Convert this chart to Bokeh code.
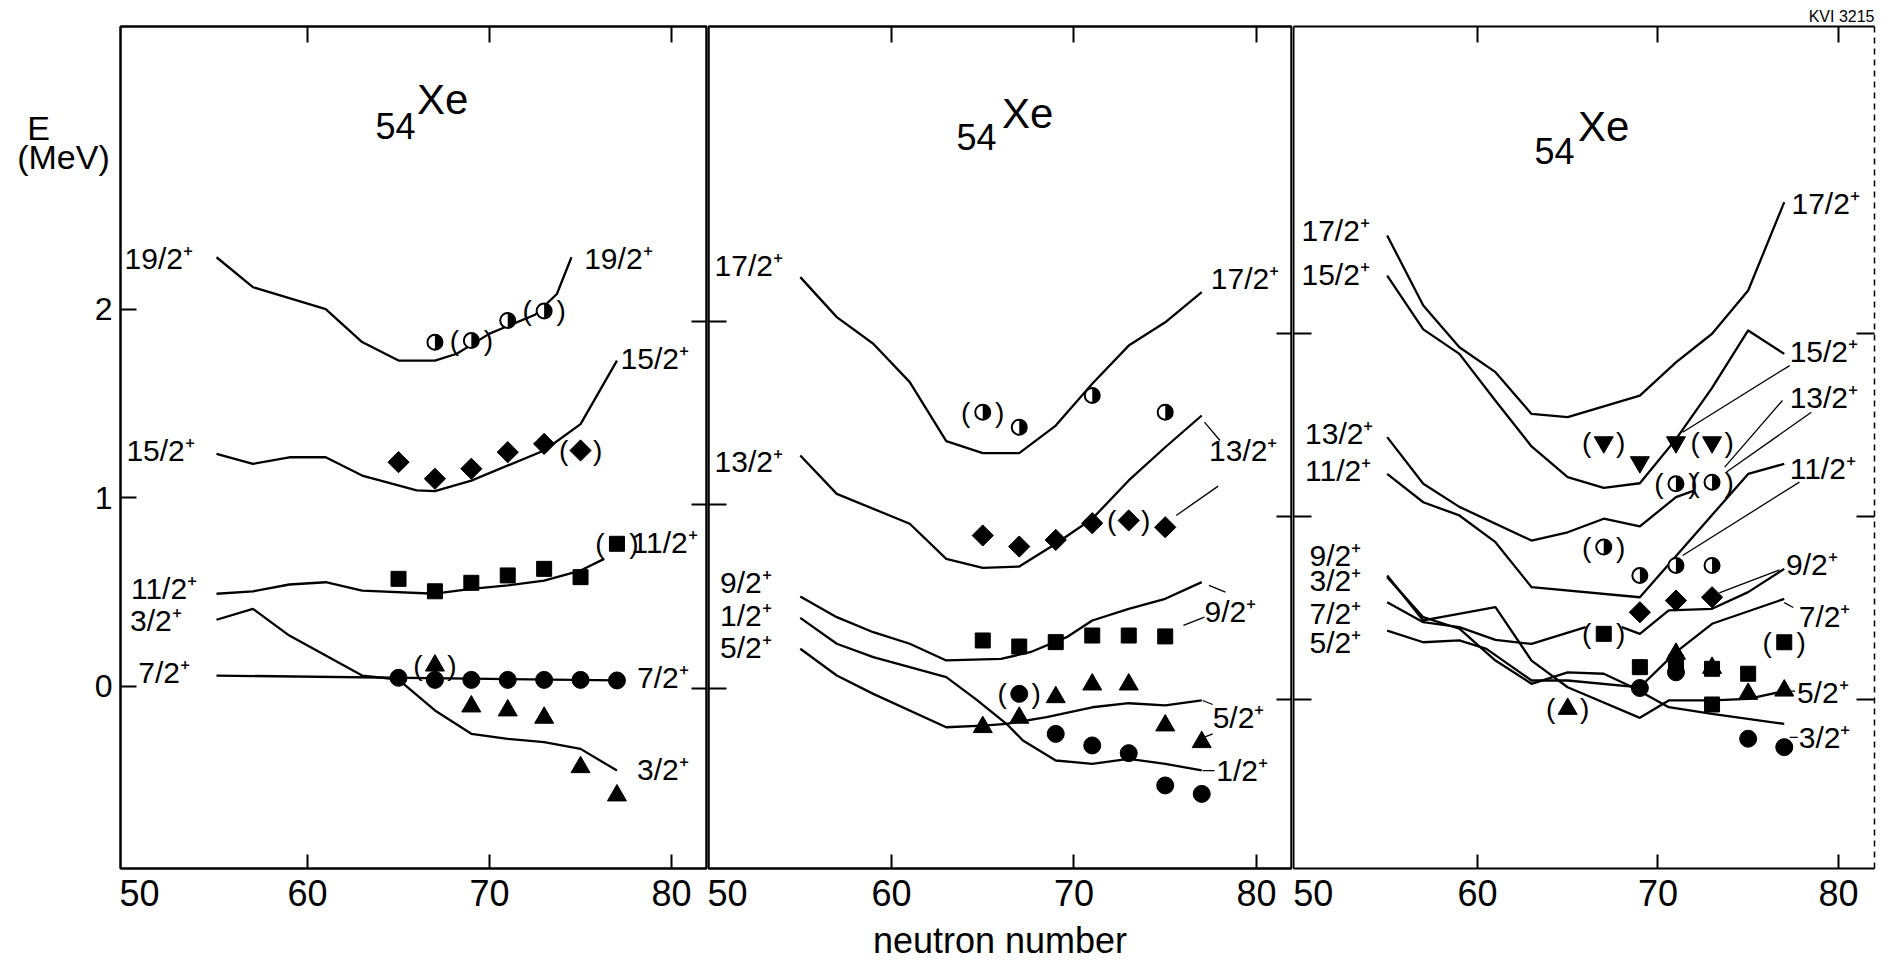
import math
from bokeh.plotting import figure
from bokeh.layouts import row
from bokeh.models import Range1d, LinearAxis, FixedTicker, ColumnDataSource, Title
from bokeh.core.properties import value
from bokeh.embed import file_html
from bokeh.resources import INLINE

FONT = "Liberation Sans"

# ====================== DATA ======================
X_TICKS = [60, 70, 80]
Y_TICKS = [0, 1, 2]

# ---------------- left panel ----------------
L_T19_N = [55, 57, 59, 61, 63, 65, 67, 68.2, 70, 72.5, 73.7, 74.5]
L_T19_E = [2.275, 2.116, 2.058, 2.00, 1.825, 1.727, 1.727, 1.763, 1.87, 1.97, 2.08, 2.275]
L_T15_N = [55, 57, 59, 61, 63, 66, 67, 69, 73, 75, 77]
L_T15_E = [1.232, 1.179, 1.214, 1.214, 1.117, 1.038, 1.034, 1.09, 1.25, 1.39, 1.727]
L_T11_N = [55, 57, 59, 61, 63, 67, 69, 71, 73, 75, 76.3]
L_T11_E = [0.49, 0.503, 0.539, 0.551, 0.507, 0.49, 0.516, 0.534, 0.56, 0.613, 0.675]
L_T7_N = [55, 77]
L_T7_E = [0.056, 0.03]
L_T3_N = [55, 57, 59, 63, 65, 67, 69, 71, 73, 75, 77]
L_T3_E = [0.352, 0.41, 0.268, 0.056, 0.035, -0.129, -0.253, -0.28, -0.297, -0.333, -0.448]

L19_N = [67, 69, 71, 73]
L19_E = [1.824, 1.833, 1.94, 1.99]
L19_T = [0, 1, 0, 1]
L15_N = [65, 67, 69, 71, 73, 75]
L15_E = [1.188, 1.10, 1.153, 1.241, 1.285, 1.25]
L15_T = [0, 0, 0, 0, 0, 1]
L11_N = [65, 67, 69, 71, 73, 75, 77]
L11_E = [0.569, 0.503, 0.548, 0.587, 0.622, 0.578, 0.755]
L11_T = [0, 0, 0, 0, 0, 0, 1]
L7_N = [65, 67, 69, 71, 73, 75, 77]
L7_E = [0.044, 0.033, 0.033, 0.033, 0.033, 0.033, 0.03]
L3_N = [67, 69, 71, 73, 75, 77]
L3_E = [0.109, -0.108, -0.129, -0.168, -0.43, -0.58]
L3_T = [1, 0, 0, 0, 0, 0]

# ---------------- middle panel ----------------
M_T17_N = [55, 57, 59, 61, 63, 65, 67, 69, 71, 73, 75, 77]
M_T17_E = [2.239, 2.021, 1.876, 1.667, 1.345, 1.28, 1.28, 1.43, 1.658, 1.866, 1.993, 2.157]
M_T13_N = [55, 57, 61, 63, 65, 67, 69, 71, 73, 75, 77]
M_T13_E = [1.267, 1.058, 0.895, 0.704, 0.655, 0.662, 0.786, 0.922, 1.131, 1.312, 1.485]
M_T9_N = [55, 57, 59, 61, 63, 66, 67.6, 69.6, 71, 73, 75, 77]
M_T9_E = [0.499, 0.386, 0.304, 0.241, 0.15, 0.159, 0.195, 0.277, 0.368, 0.431, 0.486, 0.577]
M_T1_N = [55, 57, 59, 63, 64.6, 66.3, 67.2, 69, 71, 73, 75, 77]
M_T1_E = [0.382, 0.241, 0.168, 0.059, -0.059, -0.195, -0.286, -0.395, -0.413, -0.386, -0.413, -0.449]
M_T5_N = [55, 57, 59, 63, 65, 66.3, 68.5, 71, 73, 75, 77]
M_T5_E = [0.214, 0.068, -0.032, -0.214, -0.205, -0.195, -0.159, -0.105, -0.083, -0.095, -0.068]

M17_N = [65, 67, 71, 75]
M17_E = [1.503, 1.421, 1.594, 1.503]
M17_T = [1, 0, 0, 0]
M13_N = [65, 67, 69, 71, 73, 75]
M13_E = [0.831, 0.771, 0.807, 0.898, 0.913, 0.876]
M13_T = [0, 0, 0, 0, 1, 0]
M9_N = [65, 67, 69, 71, 73, 75]
M9_E = [0.259, 0.226, 0.25, 0.286, 0.286, 0.281]
M5_N = [65, 67, 69, 71, 73, 75, 77]
M5_E = [-0.213, -0.162, -0.05, 0.019, 0.019, -0.204, -0.295]
M1_N = [67, 69, 71, 73, 75, 77]
M1_E = [-0.032, -0.25, -0.313, -0.355, -0.531, -0.577]
M1_T = [1, 0, 0, 0, 0, 0]

M_LEADERS = [
    ([77.15, 78.0], [1.449, 1.349]),
    ([75.6, 77.9], [0.94, 1.10]),
    ([77.4, 78.3], [0.559, 0.522]),
    ([76.0, 77.15], [0.341, 0.386]),
    ([77.05, 77.6], [-0.068, -0.09]),
    ([77.15, 77.6], [-0.268, -0.25]),
    ([77.05, 77.7], [-0.45, -0.45]),
]

# ---------------- right panel ----------------
R_T17_N = [55, 57, 59, 61, 63, 65, 69, 71, 73, 75, 77]
R_T17_E = [2.533, 2.15, 1.922, 1.786, 1.558, 1.54, 1.658, 1.84, 1.996, 2.232, 2.715]
R_T15_N = [55, 57, 59, 61, 63, 65, 67, 69, 71, 73, 75, 77]
R_T15_E = [2.314, 2.02, 1.886, 1.63, 1.38, 1.212, 1.154, 1.179, 1.42, 1.70, 2.014, 1.886]
R_T13_N = [55, 57, 59, 63, 65, 67, 69, 71, 72]
R_T13_E = [1.431, 1.176, 1.05, 0.866, 0.911, 0.985, 0.943, 1.103, 1.139]
R_T11_N = [55, 57, 59, 61, 63, 69, 75, 77]
R_T11_E = [1.23, 1.075, 1.003, 0.857, 0.611, 0.556, 1.23, 1.285]
R_TA_N = [55, 57, 61, 63, 65, 69, 70.6, 73, 75, 77]
R_TA_E = [0.675, 0.429, 0.502, 0.21, 0.064, -0.103, -0.008, -0.008, 0.001, 0.043]
R_TB_N = [55, 57, 59, 61, 63, 65, 67, 68.6, 70.6, 73, 77]
R_TB_E = [0.666, 0.447, 0.384, 0.21, 0.083, 0.146, 0.138, 0.064, -0.045, -0.081, -0.136]
R_TC1_N = [55, 57, 59, 61, 63, 66]
R_TC1_E = [0.529, 0.42, 0.393, 0.323, 0.301, 0.393]
R_TC2_N = [68, 69, 70.6, 73, 75, 77]
R_TC2_E = [0.393, 0.356, 0.484, 0.493, 0.584, 0.711]
R_TD_N = [55, 57, 59, 60.5, 63, 65, 69, 71, 73, 77]
R_TD_E = [0.374, 0.31, 0.32, 0.274, 0.101, 0.101, 0.064, 0.256, 0.411, 0.547]

R15_N = [67, 69, 71, 73]
R15_E = [1.403, 1.294, 1.403, 1.403]
R15_T = [1, 0, 0, 1]
R13_N = [71, 73]
R13_E = [1.176, 1.185]
R13_T = [1, 1]
R11_N = [67, 69, 71, 73]
R11_E = [0.83, 0.675, 0.73, 0.73]
R11_T = [1, 0, 0, 0]
R9_N = [69, 71, 73]
R9_E = [0.474, 0.538, 0.556]
R7_N = [67, 69, 71, 73, 75, 77, 73]
R7_E = [0.356, 0.174, 0.20, 0.165, 0.138, 0.31, -0.03]
R7_T = [1, 0, 0, 0, 0, 1, 0]
R5_N = [65, 71, 73, 75, 77]
R5_E = [-0.054, 0.247, 0.17, 0.028, 0.046]
R5_T = [1, 0, 0, 0, 0]
R3_N = [69, 71, 75, 77]
R3_E = [0.06, 0.146, -0.217, -0.263]

R_LEADERS = [
    ([71.37, 77.3], [1.458, 1.822]),
    ([73.7, 76.9], [1.267, 1.631]),
    ([73.8, 78.5], [1.24, 1.567]),
    ([71.37, 77.84], [0.784, 1.185]),
    ([73.4, 76.74], [0.58, 0.706]),
    ([77.0, 77.5], [0.527, 0.50]),
    ([77.27, 77.6], [0.043, 0.043]),
    ([77.3, 77.75], [-0.21, -0.21]),
]

# ---------------- labels ----------------
L_LABELS = [("19/2⁺", 49.95, 2.27), ("19/2⁺", 75.2, 2.27), ("15/2⁺", 50.05, 1.25),
            ("15/2⁺", 77.2, 1.74), ("11/2⁺", 50.3, 0.52), ("3/2⁺", 50.25, 0.35),
            ("7/2⁺", 50.7, 0.07), ("11/2⁺", 77.8, 0.76), ("7/2⁺", 78.1, 0.045),
            ("3/2⁺", 78.1, -0.44)]
M_LABELS = [("17/2⁺", 50.3, 2.30), ("17/2⁺", 77.5, 2.23), ("13/2⁺", 50.3, 1.234),
            ("13/2⁺", 77.4, 1.294), ("9/2⁺", 50.6, 0.575), ("1/2⁺", 50.6, 0.395),
            ("5/2⁺", 50.6, 0.22), ("9/2⁺", 77.15, 0.419), ("5/2⁺", 77.6, -0.16),
            ("1/2⁺", 77.8, -0.45)]
R_LABELS = [("17/2⁺", 50.25, 2.56), ("15/2⁺", 50.25, 2.32), ("13/2⁺", 50.45, 1.45),
            ("11/2⁺", 50.45, 1.25), ("9/2⁺", 50.7, 0.784), ("3/2⁺", 50.7, 0.648),
            ("7/2⁺", 50.7, 0.467), ("5/2⁺", 50.7, 0.309), ("17/2⁺", 77.4, 2.71),
            ("15/2⁺", 77.3, 1.90), ("13/2⁺", 77.3, 1.65), ("11/2⁺", 77.3, 1.26),
            ("9/2⁺", 77.1, 0.734), ("7/2⁺", 77.8, 0.45), ("5/2⁺", 77.7, 0.036),
            ("3/2⁺", 77.8, -0.21)]
TITLE_POS = [((64.84, 2.974), (67.42, 3.11)),
             ((64.66, 3.005), (67.46, 3.133)),
             ((64.27, 2.997), (67.0, 3.128))]
FIFTY_POS = [50.44, 50.9, 50.9]
YLABEL_E = ("E", 38, 2.963)
YLABEL_U = ("(MeV)", 63, 2.809)
YTICK_LABEL_X = 112

# ====================== LAYOUT ======================
FRAME_T, FRAME_B = 26, 868
BORDER_BOTTOM = 94
GUTTER_W = 119
PANELS = [
    dict(x0=49.725, x1=81.92, Y0=685.6, S=188.5, fw=586, mbl=1, mbr=1),
    dict(x0=49.97, x1=81.92, Y0=687.5, S=183.5, fw=583, mbl=1, mbr=1),
    dict(x0=49.81, x1=82.0, Y0=698.5, S=183.0, fw=581, mbl=1, mbr=4),
]


def yrange(P):
    return (P["Y0"] - FRAME_B) / P["S"], (P["Y0"] - FRAME_T) / P["S"]


def style_axis(ax, tick_in, show_labels, standoff, label_px="36px"):
    ax.major_tick_in = tick_in
    ax.major_tick_out = 0
    ax.minor_tick_line_color = None
    ax.axis_line_width = 2
    ax.axis_line_color = "black"
    ax.major_tick_line_width = 2
    ax.major_tick_line_color = "black"
    ax.major_label_text_font = FONT
    ax.major_label_standoff = standoff
    if show_labels:
        ax.major_label_text_font_size = label_px
        ax.major_label_text_color = "black"
    else:
        ax.major_label_text_font_size = "1px"
        ax.major_label_text_color = None


def make_fig(i):
    P = PANELS[i]
    y0, y1 = yrange(P)
    p = figure(x_range=Range1d(P["x0"], P["x1"]), y_range=Range1d(y0, y1),
               frame_width=P["fw"], frame_height=FRAME_B - FRAME_T,
               min_border_left=P["mbl"], min_border_right=P["mbr"],
               min_border_top=FRAME_T, min_border_bottom=BORDER_BOTTOM,
               output_backend="svg", toolbar_location=None, title=None)
    p.xgrid.visible = False
    p.ygrid.visible = False
    p.background_fill_color = "white"
    p.border_fill_color = "white"
    p.outline_line_color = "black" if i < 2 else None
    p.outline_line_width = 2

    # bottom: tick marks (inner axis) + tick labels (outer axis)
    xa = p.xaxis[0]
    xa.ticker = FixedTicker(ticks=X_TICKS)
    style_axis(xa, 14, False, 0)
    lab = LinearAxis(ticker=FixedTicker(ticks=[FIFTY_POS[i]] + X_TICKS),
                     major_label_overrides={FIFTY_POS[i]: "50"})
    style_axis(lab, 0, True, 11, "36px")
    lab.major_tick_line_color = None
    lab.axis_line_color = None
    if i == 1:
        lab.axis_label = "neutron number"
        lab.axis_label_text_font = FONT
        lab.axis_label_text_font_size = "36px"
        lab.axis_label_text_font_style = "normal"
        lab.axis_label_text_color = "black"
        lab.axis_label_standoff = 11
    p.add_layout(lab, "below")

    top = LinearAxis(ticker=FixedTicker(ticks=X_TICKS))
    style_axis(top, 16, False, 0)
    p.add_layout(top, "above")

    ya = p.yaxis[0]
    ya.ticker = FixedTicker(ticks=Y_TICKS)
    style_axis(ya, 16 if i == 0 else 18, False, 0)

    if i < 2:
        Q = PANELS[i + 1]
        s0, s1 = yrange(Q)
        p.extra_y_ranges = {"nbr": Range1d(s0, s1)}
        ra = LinearAxis(y_range_name="nbr", ticker=FixedTicker(ticks=Y_TICKS))
        style_axis(ra, 15, False, 0)
    else:
        ra = LinearAxis(ticker=FixedTicker(ticks=Y_TICKS))
        style_axis(ra, 18, False, 0)
        ra.axis_line_dash = "6 5"
        ra.axis_line_width = 1.5
    p.add_layout(ra, "right")

    (n1, e1), (n2, e2) = TITLE_POS[i]
    p.text([n1], [e1], text=["54"], text_align="center", text_baseline="middle",
           text_font=value(FONT), text_font_size="36px", text_color="black")
    p.text([n2], [e2], text=["Xe"], text_align="center", text_baseline="middle",
           text_font=value(FONT), text_font_size="42px", text_color="black")
    return p


def theory(p, N, E, w=2.3):
    p.line(N, E, line_color="black", line_width=w, line_join="round")


def points(p, N, E, kind, tent=None):
    if kind == "half":
        p.scatter(N, E, marker="circle", size=15, fill_color="white", line_color="black", line_width=2)
        p.wedge(x=N, y=E, radius=7.2, radius_units="screen", start_angle=-math.pi / 2,
                end_angle=math.pi / 2, fill_color="black", line_color=None)
    elif kind == "diamond":
        p.scatter(N, E, marker="square", angle=math.pi / 4, size=15, fill_color="black", line_color="black")
    elif kind == "square":
        p.scatter(N, E, marker="square", size=15, fill_color="black", line_color="black")
    elif kind == "circle":
        p.scatter(N, E, marker="circle", size=17, fill_color="black", line_color="black")
    elif kind == "triangle":
        p.scatter(N, E, marker="triangle", size=19, fill_color="black", line_color="black")
    elif kind == "itriangle":
        p.scatter(N, E, marker="inverted_triangle", size=19, fill_color="black", line_color="black")
    if tent:
        tn = [n for n, t in zip(N, tent) if t]
        te = [e for e, t in zip(E, tent) if t]
        if tn:
            for ch, off in (("(", -17), (")", 17)):
                p.text(tn, te, text=[ch] * len(tn), x_offset=off, text_align="center",
                       text_baseline="middle", text_font=value(FONT), text_font_size="28px",
                       text_color="black")


def labels(p, items):
    src = ColumnDataSource(dict(t=[a for a, _, _ in items], x=[b for _, b, _ in items],
                                y=[c for _, _, c in items]))
    p.text(x="x", y="y", text="t", source=src, text_align="left", text_baseline="middle",
           text_font=value(FONT), text_font_size="30px", text_color="black")


def leaders(p, items):
    for N, E in items:
        p.line(N, E, line_color="black", line_width=1.3)


# ---------------- left ----------------
p1 = make_fig(0)
for N, E in [(L_T19_N, L_T19_E), (L_T15_N, L_T15_E), (L_T11_N, L_T11_E),
             (L_T7_N, L_T7_E), (L_T3_N, L_T3_E)]:
    theory(p1, N, E)
points(p1, L19_N, L19_E, "half", L19_T)
points(p1, L15_N, L15_E, "diamond", L15_T)
points(p1, L11_N, L11_E, "square", L11_T)
points(p1, L7_N, L7_E, "circle")
points(p1, L3_N, L3_E, "triangle", L3_T)
labels(p1, L_LABELS)

# gutter: energy label and energy tick labels, on the left panel's own y scale
p0 = figure(x_range=Range1d(0, GUTTER_W), y_range=p1.y_range,
            frame_width=GUTTER_W, frame_height=FRAME_B - FRAME_T,
            min_border_left=0, min_border_right=0,
            min_border_top=FRAME_T, min_border_bottom=BORDER_BOTTOM,
            x_axis_type=None, y_axis_type=None, output_backend="svg",
            toolbar_location=None, title=None)
p0.outline_line_color = None
p0.background_fill_color = "white"
p0.border_fill_color = "white"
for txt, gx, gy in (YLABEL_E, YLABEL_U):
    p0.text([gx], [gy], text=[txt], text_align="center", text_baseline="middle",
            text_font=value(FONT), text_font_size="34px", text_color="black")
p0.text([YTICK_LABEL_X] * len(Y_TICKS), Y_TICKS, text=[str(t) for t in Y_TICKS],
        text_align="right", text_baseline="middle", text_font=value(FONT),
        text_font_size="32px", text_color="black")

# ---------------- middle ----------------
p2 = make_fig(1)
for N, E in [(M_T17_N, M_T17_E), (M_T13_N, M_T13_E), (M_T9_N, M_T9_E),
             (M_T1_N, M_T1_E), (M_T5_N, M_T5_E)]:
    theory(p2, N, E)
leaders(p2, M_LEADERS)
points(p2, M17_N, M17_E, "half", M17_T)
points(p2, M13_N, M13_E, "diamond", M13_T)
points(p2, M9_N, M9_E, "square")
points(p2, M5_N, M5_E, "triangle")
points(p2, M1_N, M1_E, "circle", M1_T)
labels(p2, M_LABELS)

# ---------------- right ----------------
p3 = make_fig(2)
for N, E in [(R_T17_N, R_T17_E), (R_T15_N, R_T15_E), (R_T13_N, R_T13_E), (R_T11_N, R_T11_E),
             (R_TA_N, R_TA_E), (R_TB_N, R_TB_E), (R_TC1_N, R_TC1_E), (R_TC2_N, R_TC2_E),
             (R_TD_N, R_TD_E)]:
    theory(p3, N, E)
leaders(p3, R_LEADERS)
points(p3, R15_N, R15_E, "itriangle", R15_T)
points(p3, R13_N, R13_E, "half", R13_T)
points(p3, R11_N, R11_E, "half", R11_T)
points(p3, R9_N, R9_E, "diamond")
points(p3, R7_N, R7_E, "square", R7_T)
points(p3, R5_N, R5_E, "triangle", R5_T)
points(p3, R3_N, R3_E, "circle")
labels(p3, R_LABELS)
p3.add_layout(Title(text="KVI 3215", align="right", text_font=FONT, text_font_size="16px",
                    text_font_style="normal", text_color="black", standoff=3), "above")

layout = row(p0, p1, p2, p3, spacing=0)
open("out.html", "w").write(file_html(layout, INLINE))
